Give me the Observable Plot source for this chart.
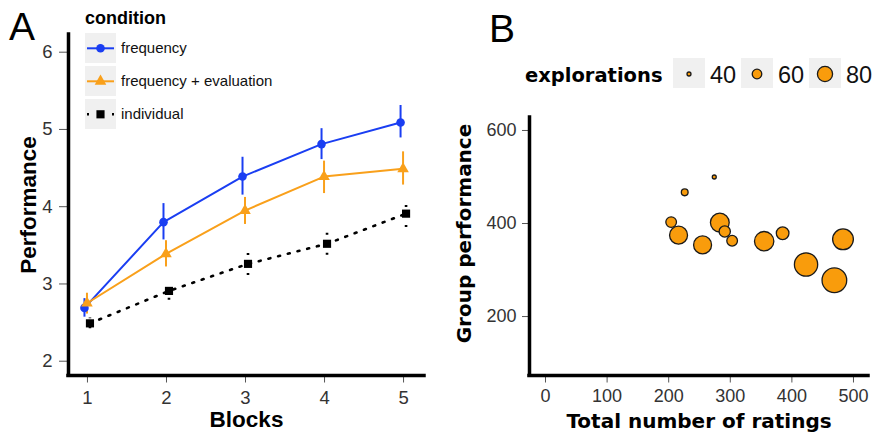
<!DOCTYPE html>
<html>
<head>
<meta charset="utf-8">
<script src="https://cdn.jsdelivr.net/npm/d3@7"></script>
<script src="https://cdn.jsdelivr.net/npm/@observablehq/plot@0.6"></script>
<style>
  html, body { margin: 0; padding: 0; background: #ffffff; }
  #root { position: relative; width: 873px; height: 436px; overflow: hidden; font-family: "Liberation Sans", Arial, sans-serif; }
  .abs { position: absolute; top: 0; }
  svg { display: block; }
</style>
</head>
<body>
<div id="root"></div>
<script>
// ---------- Panel A data ----------
const blocks = [1, 2, 3, 4, 5];
const conditions = ["frequency", "frequency + evaluation", "individual"];
const freqMean = [2.69, 3.80, 4.39, 4.81, 5.09];
const freqLo   = [2.57, 3.57, 4.15, 4.61, 4.89];
const freqHi   = [2.81, 4.04, 4.64, 5.01, 5.31];
const evalMean = [2.75, 3.39, 3.95, 4.39, 4.49];
const evalLo   = [2.61, 3.22, 3.77, 4.17, 4.28];
const evalHi   = [2.88, 3.56, 4.12, 4.59, 4.71];
const indMean  = [2.49, 2.91, 3.26, 3.52, 3.91];
const indLo    = [2.42, 2.79, 3.11, 3.37, 3.73];
const indHi    = [2.56, 3.02, 3.41, 3.66, 4.07];
const xTicksA = [1, 2, 3, 4, 5];
const yTicksA = [2, 3, 4, 5, 6];

// ---------- Panel B data ----------
const ratings      = [204, 216, 226, 255, 274, 283, 291, 303, 355, 385, 423, 469, 483];
const groupPerf    = [403, 375, 467, 354, 500, 402, 383, 363, 362, 379, 312, 278, 366];
const explorations = [64, 90, 50, 90, 40, 93, 66, 64, 95, 71, 109, 114, 100];
const explorationBreaks = [40, 60, 80];
const xTicksB = [0, 100, 200, 300, 400, 500];
const yTicksB = [200, 400, 600];

// ---------- styling ----------
const BLUE = "#1a3ef2";
const ORANGE = "#f9a01b";
const ORANGE_B = "#f99c0c";
const tickText = "#333333";
const tickStroke = "#555555";
const sansFont = "'Liberation Sans', Arial, sans-serif";
const dejaFont = "'DejaVu Sans', Verdana, sans-serif";
const DOTS = "2,8";

const styleA = {
  [conditions[0]]: {color: BLUE, symbol: "circle", r: 4.3, dx: -3, dash: null},
  [conditions[1]]: {color: ORANGE, symbol: "triangle", r: 4.3, dx: -0.5, dash: null},
  [conditions[2]]: {color: "#000000", symbol: "square", r: 4.6, dx: 2.5, dash: DOTS}
};

const seriesA = [
  {name: conditions[0], mean: freqMean, lo: freqLo, hi: freqHi},
  {name: conditions[1], mean: evalMean, lo: evalLo, hi: evalHi},
  {name: conditions[2], mean: indMean, lo: indLo, hi: indHi}
].map(s => ({name: s.name, rows: blocks.map((b, i) => ({block: b, mean: s.mean[i], lo: s.lo[i], hi: s.hi[i]}))}));

const xDomA = [0.76, 5.265];
const yDomA = [1.815, 6.229];

const lineMarks = seriesA.map(s => Plot.line(s.rows, {
  x: "block", y: "mean", stroke: styleA[s.name].color, strokeWidth: styleA[s.name].dash ? 2.6 : 2,
  strokeDasharray: styleA[s.name].dash, dx: styleA[s.name].dx
}));
const barMarks = seriesA.map(s => Plot.ruleX(s.rows, {
  x: "block", y1: "lo", y2: "hi", stroke: styleA[s.name].color, strokeWidth: styleA[s.name].dash ? 2.6 : 2,
  strokeDasharray: styleA[s.name].dash, dx: styleA[s.name].dx
}));
const dotMarks = seriesA.map(s => Plot.dot(s.rows, {
  x: "block", y: "mean", symbol: () => styleA[s.name].symbol, fill: styleA[s.name].color,
  r: styleA[s.name].r, stroke: "none", dx: styleA[s.name].dx
}));

const plotA = Plot.plot({
  width: 440, height: 436,
  marginLeft: 68, marginRight: 16, marginTop: 34, marginBottom: 61,
  x: {domain: xDomA},
  y: {domain: yDomA},
  symbol: {type: "identity"},
  style: {fontFamily: sansFont, fontSize: "18.5px", background: "transparent", overflow: "visible"},
  marks: [
    Plot.axisX({ticks: xTicksA, tickSize: 7.5, tickPadding: 8, fontSize: 18.5, stroke: tickStroke, fill: tickText, label: null, tickFormat: d => String(d)}),
    Plot.axisY({ticks: yTicksA, tickSize: 9, tickPadding: 7, fontSize: 18.5, stroke: tickStroke, fill: tickText, label: null, tickFormat: d => String(d)}),
    Plot.ruleX([xDomA[0]], {stroke: "#000", strokeWidth: 3.5, strokeLinecap: "square"}),
    Plot.ruleY([yDomA[0]], {stroke: "#000", strokeWidth: 3.5, strokeLinecap: "square"}),
    ...lineMarks,
    ...barMarks,
    ...dotMarks,
    Plot.text(["Performance"], {text: d => d, frameAnchor: "left", textAnchor: "middle", lineAnchor: "middle", dx: -40, rotate: -90, fontSize: 22.5, fontWeight: "bold", fill: "#000", fontFamily: sansFont}),
    Plot.text(["Blocks"], {text: d => d, frameAnchor: "bottom", textAnchor: "middle", lineAnchor: "middle", dy: 44.7, fontSize: 22.5, fontWeight: "bold", fill: "#000", fontFamily: sansFont})
  ]
});

const rowsB = ratings.map((x, i) => ({ratings: x, perf: groupPerf[i], expl: explorations[i]}));
const xDomB = [-26, 524.4];
const yDomB = [73.3, 627.9];
const rOpts = {type: "linear", domain: [40, 80], range: [1.98, 7.58], clamp: false};

const plotB = Plot.plot({
  width: 433, height: 436,
  marginLeft: 89, marginRight: 5, marginTop: 117, marginBottom: 61,
  x: {domain: xDomB},
  y: {domain: yDomB},
  r: rOpts,
  style: {fontFamily: sansFont, fontSize: "18px", background: "transparent", overflow: "visible"},
  marks: [
    Plot.axisX({ticks: xTicksB, tickSize: 7.5, tickPadding: 6, fontSize: 18, stroke: tickStroke, fill: tickText, label: null, tickFormat: d => String(d)}),
    Plot.axisY({ticks: yTicksB, tickSize: 7, tickPadding: 6, fontSize: 18, stroke: tickStroke, fill: tickText, label: null, tickFormat: d => String(d)}),
    Plot.ruleX([xDomB[0]], {stroke: "#000", strokeWidth: 3.5, strokeLinecap: "square"}),
    Plot.ruleY([yDomB[0]], {stroke: "#000", strokeWidth: 3.5, strokeLinecap: "square"}),
    Plot.dot(rowsB, {x: "ratings", y: "perf", r: "expl", fill: ORANGE_B, stroke: "#1a1a1a", strokeWidth: 1.3, sort: null}),
    Plot.text(["Group performance"], {text: d => d, frameAnchor: "left", textAnchor: "middle", lineAnchor: "middle", dx: -65, dy: -13, rotate: -90, fontSize: 20, fontWeight: "bold", fill: "#000", fontFamily: dejaFont}),
    Plot.text(["Total number of ratings"], {text: d => d, frameAnchor: "bottom", textAnchor: "middle", lineAnchor: "middle", dy: 45.6, fontSize: 20, fontWeight: "bold", fill: "#000", fontFamily: dejaFont})
  ]
});

const root = document.getElementById("root");
const divA = document.createElement("div"); divA.className = "abs"; divA.style.left = "0px"; divA.appendChild(plotA); root.appendChild(divA);
const divB = document.createElement("div"); divB.className = "abs"; divB.style.left = "440px"; divB.appendChild(plotB); root.appendChild(divB);

// ---------- Overlay: panel letters & legends ----------
const ov = d3.select(root).append("svg")
  .attr("class", "abs").style("left", "0px").style("pointer-events", "none")
  .attr("width", 873).attr("height", 436);

ov.append("text").attr("x", 9).attr("y", 39.5).attr("font-family", sansFont).attr("font-size", 39).attr("fill", "#000").text("A");
ov.append("text").attr("x", 489).attr("y", 41.7).attr("font-family", sansFont).attr("font-size", 39).attr("fill", "#000").text("B");

// Legend A
ov.append("text").attr("x", 85).attr("y", 24).attr("font-family", sansFont).attr("font-size", 18).attr("font-weight", "bold").attr("fill", "#000").text("condition");
conditions.forEach((c, i) => {
  const st = styleA[c];
  const top = 33 + i * 33, cy = top + 15.3;
  const g = ov.append("g");
  g.append("rect").attr("x", 85).attr("y", top).attr("width", 31).attr("height", 30).attr("fill", "#f0f0f0");
  g.append("line").attr("x1", 87).attr("x2", st.dash ? 114.5 : 114).attr("y1", cy).attr("y2", cy)
    .attr("stroke", st.color).attr("stroke-width", st.dash ? 2.6 : 2).attr("stroke-dasharray", st.dash ? "2,10.5" : null);
  const symType = {circle: d3.symbolCircle, triangle: d3.symbolTriangle, square: d3.symbolSquare}[st.symbol];
  g.append("path").attr("transform", `translate(100.5,${cy})`)
    .attr("d", d3.symbol(symType, Math.PI * st.r * st.r)()).attr("fill", st.color);
  g.append("text").attr("x", 121).attr("y", cy + 5).attr("font-family", sansFont).attr("font-size", 15).attr("fill", "#111").text(c);
});

// Legend B
const rScale = Plot.scale({r: plotB.scale("r")});
ov.append("text").attr("x", 525).attr("y", 81.5).attr("font-family", dejaFont).attr("font-size", 19.5).attr("font-weight", "bold").attr("fill", "#000").text("explorations");
const boxX = [673, 741, 809];
explorationBreaks.forEach((v, i) => {
  const x0 = boxX[i];
  ov.append("rect").attr("x", x0).attr("y", 58).attr("width", 32).attr("height", 30).attr("fill", "#f0f0f0");
  ov.append("circle").attr("cx", x0 + 16).attr("cy", 74).attr("r", rScale.apply(v))
    .attr("fill", ORANGE_B).attr("stroke", "#1a1a1a").attr("stroke-width", 1.3);
  ov.append("text").attr("x", x0 + 37).attr("y", 82.5).attr("font-family", sansFont).attr("font-size", 23.5).attr("fill", "#111").text(String(v));
});
</script>
</body>
</html>
